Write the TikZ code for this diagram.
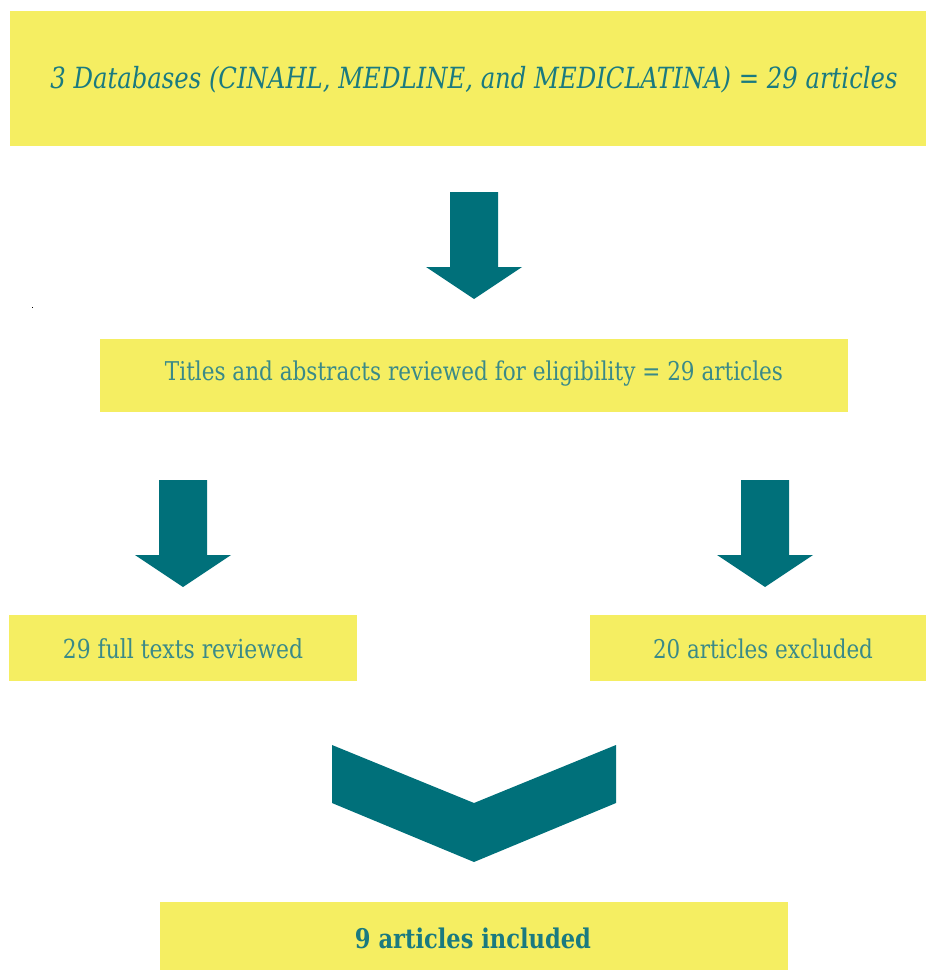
\documentclass[tikz,border=0pt]{standalone}
\usepackage{fontspec}
\setmainfont{DejaVu Serif}
\definecolor{boxyellow}{HTML}{F5EE62}
\definecolor{teal}{HTML}{00707A}
\definecolor{txtteal}{HTML}{1A7A80}
\definecolor{lighttxt}{HTML}{3A8A88}
\newcommand{\fitw}[2]{\resizebox{#1}{!}{\scalebox{1}[1.2]{#2}}}
\begin{document}
\begin{tikzpicture}[x=1pt,y=-1pt,
  box/.style={fill=boxyellow,draw=none,inner sep=0pt,outer sep=0pt},
  lbl/.style={text=txtteal,inner sep=0pt,anchor=center},
  lightlbl/.style={lbl,text=lighttxt},
  blockarrow/.style={fill=teal,draw=none}]
\useasboundingbox (0,0) rectangle (926,971);
% boxes
\fill[box] (10,11) rectangle (926,146);
\node[lbl] (t1) at (474,80) {\fitw{847pt}{\itshape 3 Databases (CINAHL, MEDLINE, and MEDICLATINA) = 29 articles}};
\fill[box] (100,339) rectangle (848,412);
\node[lightlbl] (t2) at (474,374) {\fitw{618pt}{Titles and abstracts reviewed for eligibility = 29 articles}};
\fill[box] (9,615) rectangle (357,681);
\node[lightlbl] (t3) at (183,649) {\fitw{240pt}{29 full texts reviewed}};
\fill[box] (590,615) rectangle (926,681);
\node[lightlbl] (t4) at (763,649) {\fitw{220pt}{20 articles excluded}};
\fill[box] (160,902) rectangle (788,970);
\node[lbl] (t5) at (473,938) {\fitw{236pt}{\bfseries 9 articles included}};
% block arrows
\fill[blockarrow] (450,192) -- (498,192) -- (498,267) -- (522,267) -- (474,299) -- (426,267) -- (450,267) -- cycle;
\fill[blockarrow] (159,480) -- (207,480) -- (207,555) -- (231,555) -- (183,587) -- (135,555) -- (159,555) -- cycle;
\fill[blockarrow] (741,480) -- (789,480) -- (789,555) -- (813,555) -- (765,587) -- (717,555) -- (741,555) -- cycle;
% chevron
\fill[blockarrow] (332,745) -- (474,803) -- (616,745) -- (616,803) -- (474,862) -- (332,803) -- cycle;
% stray dot
\fill[black] (32,307) rectangle (33,308);
\end{tikzpicture}
\end{document}
